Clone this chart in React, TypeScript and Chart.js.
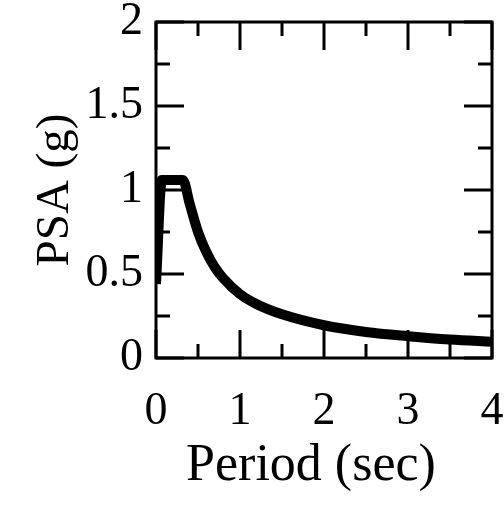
import React, { useEffect, useRef } from "react";
import { Chart, registerables } from "chart.js";

Chart.register(...registerables);

// Spectrum
const periods = [0, 0.07, 0.32, 0.4, 0.5, 0.6, 0.7, 0.8, 1.0, 1.2, 1.5, 2.0, 2.5, 3.0, 3.5, 4.0];
const psa = [0.44, 1.06, 1.06, 0.92, 0.75, 0.63, 0.54, 0.475, 0.38, 0.32, 0.26, 0.195, 0.155, 0.13, 0.11, 0.097];

const xMajorTicks = [0, 1, 2, 3, 4];
const xMinorTicks = [0.5, 1.5, 2.5, 3.5];
const yMajorTicks = [0, 0.5, 1, 1.5, 2];
const yMinorTicks = [0.25, 0.75, 1.25, 1.75];

const xTitle = "Period (sec)  ";
const yTitle = "PSA (g)";

const FONT = "'Liberation Serif', 'Times New Roman', serif";

const framePlugin = {
  id: "frameTicks",
  beforeDatasetsDraw(chart: any) {
    const { ctx, chartArea, scales } = chart;
    const { left, right, top, bottom } = chartArea;
    const xs = scales.x;
    const ys = scales.y;
    const major = 28;
    const minor = 14;
    ctx.save();
    ctx.strokeStyle = "#000";
    ctx.lineWidth = 3;
    ctx.lineCap = "butt";
    ctx.beginPath();
    const drawX = (v: number, len: number) => {
      const p = xs.getPixelForValue(v);
      ctx.moveTo(p, bottom);
      ctx.lineTo(p, bottom - len);
      ctx.moveTo(p, top);
      ctx.lineTo(p, top + len);
    };
    const drawY = (v: number, len: number) => {
      const p = ys.getPixelForValue(v);
      ctx.moveTo(left, p);
      ctx.lineTo(left + len, p);
      ctx.moveTo(right, p);
      ctx.lineTo(right - len, p);
    };
    xMajorTicks.forEach((v) => drawX(v, major));
    xMinorTicks.forEach((v) => drawX(v, minor));
    yMajorTicks.forEach((v) => drawY(v, major));
    yMinorTicks.forEach((v) => drawY(v, minor));
    ctx.stroke();
    ctx.lineJoin = "miter";
    ctx.strokeRect(left, top, right - left, bottom - top);
    ctx.restore();
  },
};

export default function App() {
  const ref = useRef<HTMLCanvasElement | null>(null);
  useEffect(() => {
    if (!ref.current) return;
    const chart = new Chart(ref.current, {
      type: "line",
      data: {
        datasets: [
          {
            data: periods.map((t, i) => ({ x: t, y: psa[i] })),
            borderColor: "#000",
            borderWidth: 10,
            pointRadius: 0,
            fill: false,
            cubicInterpolationMode: "monotone",
            borderJoinStyle: "miter",
          },
        ],
      },
      options: {
        responsive: false,
        animation: false,
        events: [],
        layout: { padding: { top: 22, right: 12, left: 0, bottom: 0 } },
        plugins: { legend: { display: false }, tooltip: { enabled: false } },
        scales: {
          x: {
            type: "linear",
            min: 0,
            max: 4,
            grid: { display: false, drawTicks: false },
            border: { display: false },
            ticks: {
              stepSize: 1,
              padding: 26,
              color: "#000",
              font: { family: FONT, size: 46 },
              maxRotation: 0,
              callback: (v: any) => String(v),
            },
            title: {
              display: true,
              text: xTitle,
              color: "#000",
              font: { family: FONT, size: 52 },
              padding: { top: 0, bottom: 11 },
            },
            afterFit: (s: any) => {
              s.height = 151;
              s.paddingLeft = 0;
              s.paddingRight = 0;
              s.paddingTop = 0;
              s.paddingBottom = 0;
            },
          },
          y: {
            type: "linear",
            min: 0,
            max: 2,
            grid: { display: false, drawTicks: false },
            border: { display: false },
            ticks: {
              stepSize: 0.5,
              padding: 13,
              color: "#000",
              font: { family: FONT, size: 46 },
              callback: (v: any) => String(v),
            },
            title: {
              display: true,
              text: yTitle,
              color: "#000",
              font: { family: FONT, size: 47 },
              padding: { top: 27, bottom: 0 },
            },
            afterFit: (s: any) => {
              s.width = 156;
              s.paddingLeft = 0;
              s.paddingRight = 0;
              s.paddingTop = 0;
              s.paddingBottom = 0;
            },
          },
        },
      },
      plugins: [framePlugin],
    });
    return () => chart.destroy();
  }, []);
  return (
    <div style={{ position: "absolute", left: 0, top: 0, width: 504, height: 509, background: "#fff" }}>
      <canvas ref={ref} width={504} height={509} style={{ display: "block" }} />
    </div>
  );
}
